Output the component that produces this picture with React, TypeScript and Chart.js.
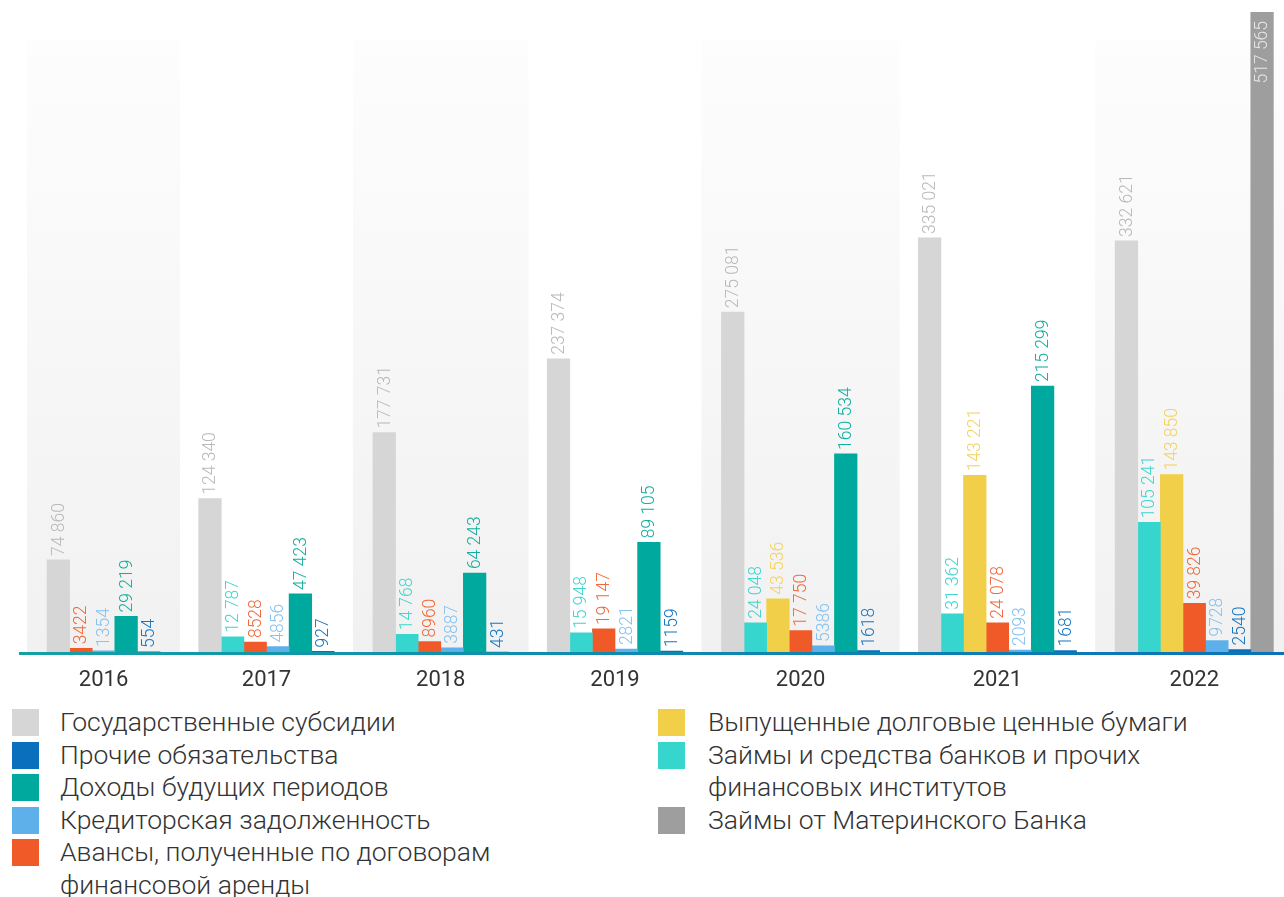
import React, { useEffect, useRef } from 'react';
import { Chart, registerables } from 'chart.js';

Chart.register(...registerables);

// ---------- DATA ----------
const years = ['2016', '2017', '2018', '2019', '2020', '2021', '2022'];
const govSubsidies = [74860, 124340, 177731, 237374, 275081, 335021, 332621];
const bankLoans = [null, 12787, 14768, 15948, 24048, 31362, 105241];
const debtSecurities = [null, null, null, null, 43536, 143221, 143850];
const leaseAdvances = [3422, 8528, 8960, 19147, 17750, 24078, 39826];
const payables = [1354, 4856, 3887, 2821, 5386, 2093, 9728];
const deferredIncome = [29219, 47423, 64243, 89105, 160534, 215299, null];
const otherLiabilities = [554, 927, 431, 1159, 1618, 1681, 2540];
const parentBankLoans = [null, null, null, null, null, null, 517565];

const seriesNames = [
  'Государственные субсидии',
  'Займы и средства банков и прочих финансовых институтов',
  'Выпущенные долговые ценные бумаги',
  'Авансы, полученные по договорам финансовой аренды',
  'Кредиторская задолженность',
  'Доходы будущих периодов',
  'Прочие обязательства',
  'Займы от Материнского Банка',
];
const seriesValues: (number | null)[][] = [
  govSubsidies,
  bankLoans,
  debtSecurities,
  leaseAdvances,
  payables,
  deferredIncome,
  otherLiabilities,
  parentBankLoans,
];
const barColors = ['#d6d6d6', '#36d6cf', '#f2cf48', '#f05a28', '#5db0ea', '#00a99d', '#0a6fbd', '#9e9e9e'];
const labelColors = ['#b9b9b9', '#3fd6cf', '#f4d35e', '#f2683a', '#86c2f0', '#13ae9f', '#1676c0', '#e6e6e6'];

const legendLeft = [0, 6, 5, 4, 3];
const legendRight = [2, 1, 7];

const FONT = 'Roboto, "Noto Sans", sans-serif';

// Layout in "bar slot" units: each present bar takes one slot, groups are
// packed with a constant gap (missing series take no space).
const GAP_SLOTS = 1.71;
const EDGE_LEFT_SLOTS = 1.55;
const EDGE_RIGHT_SLOTS = 0.47;

const groupCenters: number[] = [];
const seriesPoints: { x: number; y: number; year: number }[][] = seriesValues.map(() => []);
let cursor = 0;
years.forEach((_, i) => {
  const start = cursor;
  seriesValues.forEach((vals, s) => {
    const v = vals[i];
    if (v != null) {
      seriesPoints[s].push({ x: cursor + 0.5, y: v, year: i });
      cursor += 1;
    }
  });
  groupCenters.push((start + cursor) / 2);
  cursor += GAP_SLOTS;
});
const slotsEnd = cursor - GAP_SLOTS;

function formatValue(v: number): string {
  const s = String(v);
  if (s.length <= 4) return s;
  return s.replace(/\B(?=(\d{3})+(?!\d))/g, ' ');
}

const bandsPlugin = {
  id: 'bands',
  beforeDatasetsDraw(chart: any) {
    const { ctx, chartArea } = chart;
    const top = chartArea.top + 28;
    for (let i = 0; i < years.length; i += 2) {
      let minX = Infinity;
      let maxX = -Infinity;
      chart.data.datasets.forEach((ds: any, di: number) => {
        const meta = chart.getDatasetMeta(di);
        ds.data.forEach((p: any, j: number) => {
          if (p.year !== i) return;
          const el = meta.data[j];
          if (!el) return;
          minX = Math.min(minX, el.x - el.width / 2);
          maxX = Math.max(maxX, el.x + el.width / 2);
        });
      });
      if (!isFinite(minX)) continue;
      const g = ctx.createLinearGradient(0, top, 0, chartArea.bottom);
      g.addColorStop(0, '#fdfdfd');
      g.addColorStop(1, '#f1f1f1');
      ctx.save();
      ctx.fillStyle = g;
      ctx.fillRect(minX - 20, top, maxX - minX + 40, chartArea.bottom - top);
      ctx.restore();
    }
  },
};

const axisLinePlugin = {
  id: 'axisLine',
  afterDatasetsDraw(chart: any) {
    const { ctx, chartArea, width } = chart;
    const y = chartArea.bottom + 1;
    const g = ctx.createLinearGradient(chartArea.left, 0, width, 0);
    g.addColorStop(0, '#14a0a6');
    g.addColorStop(1, '#0b72b9');
    ctx.save();
    ctx.strokeStyle = g;
    ctx.lineWidth = 3;
    ctx.beginPath();
    ctx.moveTo(chartArea.left + 7, y);
    ctx.lineTo(width, y);
    ctx.stroke();
    ctx.restore();
  },
};

const valueLabelsPlugin = {
  id: 'valueLabels',
  afterDatasetsDraw(chart: any) {
    const { ctx } = chart;
    ctx.save();
    ctx.font = `300 17.5px ${FONT}`;
    ctx.textBaseline = 'middle';
    chart.data.datasets.forEach((ds: any, di: number) => {
      const meta = chart.getDatasetMeta(di);
      ds.data.forEach((p: any, j: number) => {
        const el = meta.data[j];
        if (!el) return;
        const text = formatValue(p.y);
        const w = ctx.measureText(text).width;
        ctx.save();
        if (el.y - 5 - w < 2) {
          ctx.translate(el.x + 1, el.y + 9);
          ctx.rotate(-Math.PI / 2);
          ctx.textAlign = 'right';
          ctx.fillStyle = labelColors[di];
        } else {
          ctx.translate(el.x + 1, el.y - 4);
          ctx.rotate(-Math.PI / 2);
          ctx.textAlign = 'left';
          ctx.fillStyle = di === 7 ? '#9e9e9e' : labelColors[di];
        }
        ctx.fillText(text, 0, 0);
        ctx.restore();
      });
    });
    ctx.restore();
  },
};

function LegendItem({ idx, gap }: { idx: number; gap: number }) {
  return (
    <div style={{ display: 'flex', alignItems: 'flex-start' }}>
      <div
        style={{
          width: 27,
          height: 27,
          marginTop: 3,
          background: barColors[idx],
          flex: '0 0 auto',
        }}
      />
      <div style={{ marginLeft: gap, width: 500 }}>{seriesNames[idx]}</div>
    </div>
  );
}

export default function App() {
  const canvasRef = useRef<HTMLCanvasElement | null>(null);

  useEffect(() => {
    document.body.style.margin = '0';
    document.body.style.overflow = 'hidden';
    const canvas = canvasRef.current;
    if (!canvas) return;
    const allValues = seriesValues.flat().filter((v) => v != null) as number[];
    const maxValue = Math.max(...allValues);
    const chart = new Chart(canvas, {
      type: 'bar',
      data: {
        datasets: seriesPoints.map((pts, i) => ({
          label: seriesNames[i],
          data: pts,
          backgroundColor: barColors[i],
          borderWidth: 0,
          barThickness: 22.6,
          grouped: false,
        })) as any,
      },
      options: {
        animation: false,
        responsive: true,
        maintainAspectRatio: false,
        layout: { padding: { left: 12, right: 0, top: 12, bottom: 1 } },
        plugins: {
          legend: { display: false },
          tooltip: { enabled: false },
        },
        scales: {
          x: {
            type: 'linear',
            offset: false,
            min: -EDGE_LEFT_SLOTS,
            max: slotsEnd + EDGE_RIGHT_SLOTS,
            grid: { display: false, drawTicks: false, offset: false },
            border: { display: false },
            afterBuildTicks: (scale: any) => {
              scale.ticks = groupCenters.map((v) => ({ value: v }));
            },
            ticks: {
              autoSkip: false,
              maxRotation: 0,
              color: '#333333',
              font: { family: FONT, size: 22, weight: '400' as any },
              padding: 15,
              callback: (_v: any, index: number) => years[index],
            },
          },
          y: {
            display: false,
            min: 0,
            max: maxValue,
          },
        },
      },
      plugins: [bandsPlugin, axisLinePlugin, valueLabelsPlugin],
    });
    return () => chart.destroy();
  }, []);

  return (
    <div style={{ width: 1284, fontFamily: FONT, color: '#333333' }}>
      <div style={{ position: 'relative', width: 1284, height: 710 }}>
        <canvas ref={canvasRef} />
      </div>
      <div
        style={{
          display: 'flex',
          marginTop: -4,
          fontSize: 26.5,
          fontWeight: 300,
          lineHeight: '32.5px',
        }}
      >
        <div style={{ paddingLeft: 12, width: 646, boxSizing: 'border-box' }}>
          {legendLeft.map((i) => (
            <LegendItem key={i} idx={i} gap={21} />
          ))}
        </div>
        <div style={{ paddingLeft: 12, boxSizing: 'border-box' }}>
          {legendRight.map((i) => (
            <LegendItem key={i} idx={i} gap={23} />
          ))}
        </div>
      </div>
    </div>
  );
}
